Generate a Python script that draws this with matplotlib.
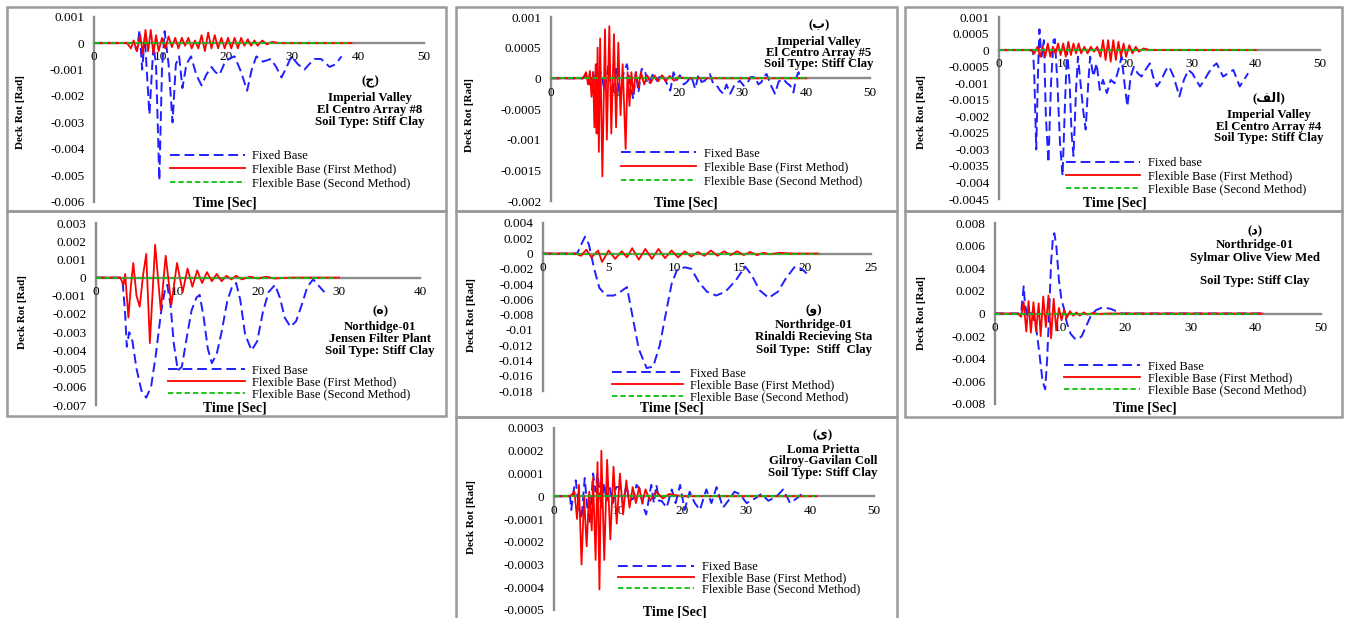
import numpy as np
import matplotlib

matplotlib.use("Agg")
import matplotlib.pyplot as plt
from matplotlib.patches import Rectangle
from matplotlib.ticker import FuncFormatter

W, H = 1345, 618
plt.rcParams["font.family"] = ["Liberation Serif", "DejaVu Sans"]

# ---------------- data: (time [s], deck rotation [rad]) ----------------
# (ج) Imperial Valley - El Centro Array #8
p1_fixed = [(0, 0), (6.0, 0), (6.5, -0.0003), (6.9, 0.0005), (7.3, -0.001), (7.7, 0.0002),
            (8.4, -0.0027), (9.0, -0.0001), (9.4, -0.0008), (9.9, -0.0052), (10.3, -0.001),
            (10.7, 0.00045), (11.3, -0.0008), (11.9, -0.003), (12.4, -0.0008), (12.9, -0.0005),
            (13.4, -0.0017), (14.0, -0.0008), (14.7, -0.0005), (15.5, -0.0012), (16.3, -0.0016),
            (17.0, -0.0012), (17.8, -0.0009), (18.4, -0.0011), (19.0, -0.0012), (19.7, -0.0008),
            (20.4, -0.0006), (21.3, -0.0005), (22.3, -0.0011), (23.2, -0.0018), (23.9, -0.001),
            (24.6, -0.0005), (25.6, -0.0007), (26.8, -0.0006), (27.6, -0.0009), (28.4, -0.0013),
            (29.2, -0.0009), (29.9, -0.0005), (30.9, -0.0008), (31.9, -0.001), (32.6, -0.0008),
            (33.4, -0.0006), (34.4, -0.0006), (35.7, -0.0009), (36.6, -0.0008), (37.5, -0.0005)]
p1_flex1 = [(0, 0), (5.0, 0), (5.6, -0.0002), (6.0, 0.0001), (6.5, -0.0003), (7.0, 0.0003),
            (7.4, -0.0004), (7.8, 0.0005), (8.2, -0.0003), (8.6, 0.0005), (9.0, -0.0004),
            (9.4, 0.0003), (9.8, -0.0003), (10.3, 0.0002), (10.8, -0.0002), (11.3, 0.00025),
            (11.8, -0.00015), (12.3, 0.0002), (12.8, -0.0002), (13.3, 0.0002), (13.8, -0.0001),
            (14.3, 0.0002), (14.8, -0.0002), (15.3, 0.0001), (15.8, -0.0002), (16.3, 0.0003),
            (16.8, -0.0003), (17.3, 0.0004), (17.8, -0.0002), (18.3, 0.0003), (18.8, -0.0002),
            (19.3, 0.0002), (19.8, -0.0002), (20.3, 0.0002), (20.8, -0.0002), (21.3, 0.0002),
            (21.8, -0.0002), (22.3, 0.0002), (22.8, -0.0001), (23.3, 0.00015), (23.8, -0.0001),
            (24.3, 0.0001), (24.8, -0.0001), (25.5, 0.0001), (26.2, -0.00005), (27.0, 0.00005),
            (28.0, 0), (39.0, 0)]
p1_flex2 = [(0, 0), (38.5, 0)]

# (ب) Imperial Valley - El Centro Array #5
p2_fixed = [(0, 0), (5.0, 0), (5.5, 0.00005), (6.0, -0.0001), (6.6, 0.0001), (7.2, -0.0002),
            (7.8, 0.0001), (8.4, -0.0002), (9.0, 0.0002), (9.6, -0.0003), (10.2, 0.0002),
            (10.8, -0.0003), (11.4, 0.0001), (11.9, 0.00023), (12.4, -0.0001), (12.9, -0.00034),
            (13.3, 0.0001), (13.7, -0.00023), (14.2, 0.00015), (14.7, 0.00015), (15.1, -0.0001),
            (15.5, -0.00006), (16.0, 0.00008), (16.6, -0.00004), (17.3, 0.00007), (18.0, -0.00005),
            (18.7, -0.0002), (19.2, 0.0001), (19.7, -0.00003), (20.2, 0.00005), (20.8, -0.0001),
            (21.3, -0.00006), (22.0, 0.00003), (22.6, -0.00017), (23.1, 0.00005), (23.6, -0.00006),
            (24.1, -0.00004), (24.9, 0.00007), (25.4, -0.00008), (26.0, -0.00012), (26.5, -0.0002),
            (27.0, -0.00025), (27.5, -0.0001), (28.1, -0.00025), (28.8, -0.0001), (29.6, -0.00004),
            (30.2, -0.00012), (30.7, -0.00009), (31.3, 0.00002), (32.0, 0.00002), (32.5, -0.0001),
            (33.0, -0.00006), (33.4, 0.00003), (33.8, 0.00007), (34.4, -0.0001), (35.1, -0.00025),
            (35.7, -0.00005), (36.4, -0.00001), (37.0, -0.00008), (37.5, -0.00012), (38.0, -0.00023),
            (38.4, 0.0), (38.8, 0.0001), (39.0, 0.0)]
p2_flex1 = [(0, 0), (5.0, 0), (5.5, 0.0001), (5.8, -0.0001), (6.1, 0.00012), (6.35, -0.0003),
            (6.6, 0.0001), (6.8, -0.0008), (7.0, 0.00023), (7.15, -0.0009), (7.3, 0.0005),
            (7.5, -0.0012), (7.7, 0.00065), (8.05, -0.0016), (8.46, 0.0008), (8.75, -0.001),
            (9.14, 0.00085), (9.45, -0.0009), (9.87, 0.00072), (10.2, -0.0008), (10.55, 0.00058),
            (10.9, -0.0006), (11.23, 0.00023), (11.7, -0.00115), (12.0, 0.0001), (12.3, -0.00045),
            (12.6, 0.0001), (12.9, -0.00025), (13.3, 0.0001), (13.7, -0.00015), (14.1, 0.0001),
            (14.6, -0.0001), (15.1, 0.00005), (15.6, -0.00008), (16.2, 0.00005), (16.8, -0.00005),
            (17.4, 0.00005), (18.0, -0.00005), (18.6, 0.00004), (19.3, -0.00004), (20.0, 0.00002),
            (21.0, 0), (40.0, 0)]
p2_flex2 = [(0, 0), (40.3, 0)]

# (الف) Imperial Valley - El Centro Array #4
p3_fixed = [(0, 0), (5.3, 0), (5.5, -0.0008), (5.8, -0.003), (6.1, -0.0005), (6.3, 0.00063),
            (6.6, -0.0002), (7.0, 0.0003), (7.3, -0.002), (7.7, -0.0034), (8.1, -0.001),
            (8.5, 0.0003), (8.7, 0.00033), (9.1, -0.001), (9.5, -0.0028), (9.9, -0.0038),
            (10.3, -0.0015), (10.6, 0.0), (11.0, -0.001), (11.3, -0.0025), (11.6, -0.0032),
            (12.0, -0.0012), (12.3, -0.0002), (12.7, -0.001), (13.1, -0.0018), (13.5, -0.0024),
            (13.9, -0.001), (14.2, -0.0002), (14.7, -0.0008), (15.2, -0.0004), (15.7, -0.0012),
            (16.2, -0.0009), (16.8, -0.0013), (17.4, -0.0009), (18.0, -0.001), (18.6, -0.0006),
            (19.1, -0.0002), (19.6, -0.0011), (20.0, -0.0017), (20.5, -0.0008), (21.0, -0.0005),
            (21.6, -0.0007), (22.2, -0.0008), (22.8, -0.0006), (23.5, -0.0004), (24.0, -0.0008),
            (24.6, -0.0011), (25.3, -0.0009), (26.0, -0.0006), (26.5, -0.0005), (27.2, -0.0008),
            (28.1, -0.0014), (28.8, -0.0009), (29.5, -0.0006), (30.1, -0.0007), (30.7, -0.0009),
            (31.3, -0.0011), (32.0, -0.0009), (32.6, -0.0007), (33.3, -0.0005), (33.9, -0.0004),
            (34.9, -0.0008), (35.7, -0.0007), (36.5, -0.0006), (37.5, -0.0011), (38.8, -0.0007)]
p3_flex1 = [(0, 0), (5.0, 0), (5.5, -0.0001), (6.0, 0.0001), (6.4, -0.0002), (6.8, 0.0001),
            (7.2, -0.0002), (7.6, 0.0002), (8.0, -0.0002), (8.4, 0.0001), (8.8, -0.0001),
            (9.2, 0.0002), (9.6, -0.00015), (10.0, 0.0002), (10.4, -0.0002), (10.8, 0.00025),
            (11.2, -0.00015), (11.6, 0.0002), (12.0, -0.0001), (12.4, 0.0002), (12.8, -0.0001),
            (13.3, 0.0001), (13.8, -0.0001), (14.3, 0.0001), (14.8, -0.00005), (15.3, 0.0001),
            (15.8, -0.0002), (16.2, 0.0003), (16.6, -0.0003), (17.0, 0.0003), (17.4, -0.00035),
            (17.8, 0.0003), (18.2, -0.0003), (18.6, 0.00025), (19.0, -0.0002), (19.4, 0.0002),
            (19.8, -0.0002), (20.3, 0.00015), (20.8, -0.0001), (21.3, 0.0001), (21.8, -0.00005),
            (22.5, 0.00005), (23.5, 0), (40.0, 0)]
p3_flex2 = [(0, 0), (40.4, 0)]

# (ه) Northridge-01 - Jensen Filter Plant
p4_fixed = [(0, 0), (3.0, 0), (3.3, -0.0003), (3.6, -0.002), (3.8, -0.0038), (4.1, -0.003),
            (4.5, -0.0035), (5.0, -0.005), (5.6, -0.0062), (6.2, -0.0066), (6.8, -0.006),
            (7.4, -0.0042), (8.0, -0.002), (8.5, -0.0007), (8.8, -0.0004), (9.2, -0.0015),
            (9.6, -0.0036), (10.1, -0.0051), (10.6, -0.0049), (11.2, -0.0033), (11.8, -0.0018),
            (12.4, -0.0011), (12.8, -0.00095), (13.3, -0.0022), (13.8, -0.0039), (14.3, -0.0047),
            (14.9, -0.0042), (15.5, -0.003), (16.2, -0.0013), (16.8, -0.0005), (17.3, -0.0003),
            (17.8, -0.0012), (18.4, -0.0031), (19.2, -0.004), (19.9, -0.0035), (20.6, -0.0019),
            (21.3, -0.0008), (22.1, -0.0004), (22.7, -0.0011), (23.3, -0.0022), (24.0, -0.0027),
            (24.7, -0.0024), (25.4, -0.0015), (26.1, -0.0005), (26.8, -0.0001), (27.4, -0.0004),
            (28.2, -0.0008)]
p4_flex1 = [(0, 0), (3.0, 0), (3.4, -0.0004), (3.6, 0.0002), (4.0, -0.0022), (4.3, -0.0005),
            (4.6, 0.0008), (5.0, -0.001), (5.4, -0.0016), (5.8, 0.0001), (6.2, 0.0013),
            (6.65, -0.0036), (7.3, 0.0018), (8.0, -0.0018), (8.6, 0.0012), (9.3, -0.0015),
            (10.0, 0.0008), (10.7, -0.0008), (11.3, 0.0005), (11.9, -0.0005), (12.5, 0.0004),
            (13.1, -0.0003), (13.7, 0.0003), (14.3, -0.0002), (14.9, 0.0002), (15.5, -0.0002),
            (16.1, 0.0001), (16.7, -0.0001), (17.3, 0.0001), (18.0, -0.0001), (19.0, 0.00005),
            (20.0, -0.00005), (21.0, 0.00005), (22.0, -0.00005), (24.0, 0), (30.0, 0)]
p4_flex2 = [(0, 0), (29.9, 0)]

# (و) Northridge-01 - Rinaldi Recieving Sta
p5_fixed = [(0, 0), (2.6, 0), (3.0, 0.0015), (3.2, 0.0022), (3.5, 0.0012), (3.9, -0.002),
            (4.3, -0.0045), (4.8, -0.0055), (5.4, -0.0055), (5.9, -0.005), (6.4, -0.0044),
            (6.8, -0.008), (7.3, -0.0125), (7.9, -0.015), (8.4, -0.0148), (8.9, -0.012),
            (9.4, -0.0075), (9.8, -0.004), (10.2, -0.0022), (10.8, -0.0018), (11.3, -0.002),
            (11.9, -0.0038), (12.5, -0.005), (13.2, -0.0055), (13.9, -0.005), (14.7, -0.0035),
            (15.4, -0.0017), (15.9, -0.0028), (16.5, -0.0048), (17.2, -0.0058), (17.9, -0.005),
            (18.5, -0.0033), (19.2, -0.0017), (19.7, -0.002), (20.1, -0.0026)]
p5_flex1 = [(0, 0), (2.5, 0), (2.9, -0.0003), (3.3, 0.0005), (3.7, -0.0005), (4.2, 0.0004),
            (4.5, -0.0011), (5.0, 0.0004), (5.5, -0.0007), (6.0, 0.0003), (6.4, -0.0005),
            (6.8, 0.0007), (7.3, -0.0008), (7.8, 0.0006), (8.3, -0.0007), (8.8, 0.0006),
            (9.3, -0.0006), (9.8, 0.0004), (10.3, -0.0005), (10.8, 0.0003), (11.3, -0.0004),
            (11.8, 0.0002), (12.3, -0.0003), (12.8, 0.0004), (13.3, -0.0003), (13.8, 0.0003),
            (14.3, -0.0002), (14.8, 0.0003), (15.3, -0.0002), (15.8, 0.0002), (16.3, -0.0002),
            (16.8, 0.0001), (17.3, -0.0001), (18.0, 0.0001), (19.0, 0), (21.0, 0)]
p5_flex2 = [(0, 0), (21.0, 0)]

# (د) Northridge-01 - Sylmar Olive View Med
p6_fixed = [(0, 0), (4.0, 0), (4.2, 0.0012), (4.4, 0.0024), (4.6, 0.0008), (4.9, -0.0001),
            (5.3, 0.0002), (5.8, -0.0002), (6.3, -0.0012), (6.8, -0.0035), (7.3, -0.006),
            (7.7, -0.0067), (8.0, -0.004), (8.3, 0.0), (8.6, 0.0045), (8.9, 0.0068),
            (9.1, 0.0071), (9.4, 0.006), (9.8, 0.003), (10.2, 0.0012), (10.6, 0.0004),
            (11.0, -0.0008), (11.6, -0.0018), (12.2, -0.0022), (12.7, -0.0023), (13.3, -0.002),
            (14.0, -0.0011), (14.7, -0.0002), (15.5, 0.0003), (16.3, 0.0005), (17.0, 0.0005),
            (17.8, 0.0004), (18.6, 0.0002), (19.5, 0.0), (41.0, 0.0)]
p6_flex1 = [(0, 0), (3.5, 0), (4.0, -0.0003), (4.4, 0.001), (4.8, -0.0016), (5.15, 0.0011),
            (5.5, -0.0017), (5.9, 0.001), (6.3, -0.0016), (6.7, 0.0009), (7.0, -0.002),
            (7.4, 0.0015), (7.8, -0.0012), (8.2, 0.0016), (8.6, -0.0022), (9.0, 0.0013),
            (9.4, -0.0015), (9.8, 0.0005), (10.2, -0.0006), (10.6, 0.0003), (11.0, -0.0004),
            (11.5, 0.0002), (12.0, -0.0002), (12.5, 0.0001), (13.0, -0.0002), (13.6, 0.0001),
            (14.2, -0.0001), (15.0, 0.00005), (16.0, -0.00005), (17.0, 0), (41.0, 0)]
p6_flex2 = [(0, 0), (41.0, 0)]

# (ی) Loma Prietta - Gilroy-Gavilan Coll
p7_fixed = [(0, 0), (2.5, 0), (2.7, -0.00006), (3.1, 0.00003), (3.4, 0.00007), (3.9, -0.00005),
            (4.3, -0.0001), (4.8, 0.00008), (5.2, -0.00005), (5.6, -0.00012), (6.1, 0.0001),
            (6.5, 0.00002), (6.8, 0.0001), (7.4, -0.00005), (7.8, 0.00006), (8.2, -0.00002),
            (8.7, 0.00004), (9.2, -0.00003), (9.7, 0.00004), (10.3, 0.00004), (10.8, -0.00003),
            (11.3, 0.00005), (11.8, -0.00002), (12.4, -0.00001), (12.9, 0.00005), (13.4, 0.00003),
            (13.9, -0.00004), (14.4, -0.00008), (15.2, 0.00005), (15.6, -0.00003), (16.0, 0.00005),
            (16.4, -0.00002), (16.8, -0.00002), (17.6, -0.00005), (18.4, 0.00003), (19.0, -0.00003),
            (19.7, 0.00005), (20.4, -0.00006), (21.2, 0.00002), (22.0, -0.00003), (22.8, -0.00006),
            (23.8, 0.00003), (24.6, -0.00003), (25.4, 0.00004), (26.4, -0.00005), (27.5, -0.00001),
            (28.2, 0.00002), (29.0, 0.00001), (30.1, -0.00003), (31.4, -0.00001), (32.4, 0.00001),
            (33.5, -0.00002), (34.8, 0.0), (35.8, 0.00003), (36.9, -0.00003), (37.9, -0.00001),
            (38.7, 0.00001), (39.3, 0.0)]
p7_flex1 = [(0, 0), (2.5, 0), (3.2, 0.00002), (3.6, -0.0001), (3.9, 0.00005), (4.3, -0.0003),
            (4.7, 0.0), (5.1, -0.00022), (5.5, 0.00002), (5.9, -0.00015), (6.1, 0.00008),
            (6.5, -0.00028), (6.8, 0.00015), (7.1, -0.00041), (7.4, 0.0002), (7.85, -0.00028),
            (8.3, 0.00016), (8.8, -0.00019), (9.3, 0.00013), (9.8, -0.00012), (10.3, 0.0001),
            (10.8, -0.00008), (11.3, 0.00007), (11.8, -0.00005), (12.3, 0.00004), (12.8, -0.00003),
            (13.3, 0.00004), (13.8, -0.00003), (14.3, 0.00003), (15.0, -0.00002), (16.0, 0.00002),
            (17.0, -0.00001), (18.0, 0.00001), (20.0, 0), (41.0, 0)]
p7_flex2 = [(0, 0), (40.8, 0)]

SERIES_LABELS = ["Fixed Base", "Flexible Base (First Method)", "Flexible Base (Second Method)"]

# ---------------- layout (pixel coordinates of the reference) ----------------
# leg = (handle left x, first row y, handle length, row pitch)
PANELS = [
    dict(box=(7, 7, 446, 211), ax=(94, 424, 16.7, 201.7), xmax=50, xstep=10,
         ylim=(-0.006, 0.001), ystep=0.001, data=(p1_fixed, p1_flex1, p1_flex2),
         fixed_label="Fixed Base", note_x=370, note_y=[82, 98, 110, 122],
         note=["(ج)", "Imperial Valley", "El Centro Array #8", "Soil Type: Stiff Clay"],
         leg=(170, 157, 75, 14), ylab=(21, 112), xlab=(225, 203)),
    dict(box=(456, 7, 897, 211), ax=(551, 870, 17, 201), xmax=50, xstep=10,
         ylim=(-0.002, 0.001), ystep=0.0005, data=(p2_fixed, p2_flex1, p2_flex2),
         fixed_label="Fixed Base", note_x=819, note_y=[25, 42, 53, 64],
         note=["(ب)", "Imperial Valley", "El Centro Array #5", "Soil Type: Stiff Clay"],
         leg=(621, 155, 75, 14.5), ylab=(470, 115), xlab=(686, 203)),
    dict(box=(905, 7, 1342, 211), ax=(999, 1320, 17, 199), xmax=50, xstep=10,
         ylim=(-0.0045, 0.001), ystep=0.0005, data=(p3_fixed, p3_flex1, p3_flex2),
         fixed_label="Fixed base", note_x=1269, note_y=[98, 115, 127, 138],
         note=["(\ufed2\ufedf\ufe8d)", "Imperial Valley", "El Centro Array #4", "Soil Type: Stiff Clay"],
         leg=(1066, 164, 74, 13.5), ylab=(921, 112), xlab=(1115, 203)),
    dict(box=(7, 211, 446, 416), ax=(96, 420, 223, 405), xmax=40, xstep=10,
         ylim=(-0.007, 0.003), ystep=0.001, data=(p4_fixed, p4_flex1, p4_flex2),
         fixed_label="Fixed Base", note_x=380, note_y=[311, 327, 339, 351],
         note=["(ه)", "Northidge-01", "Jensen Filter Plant", "Soil Type: Stiff Clay"],
         leg=(168, 371, 77, 12.5), ylab=(23, 312), xlab=(235, 408)),
    dict(box=(456, 211, 897, 417), ax=(543, 871, 223, 391), xmax=25, xstep=5,
         ylim=(-0.018, 0.004), ystep=0.002, data=(p5_fixed, p5_flex1, p5_flex2),
         fixed_label="Fixed Base", note_x=814, note_y=[310, 325, 337, 350],
         note=["(و)", "Northridge-01", "Rinaldi Recieving Sta", "Soil Type:  Stiff  Clay"],
         leg=(612, 374, 71, 12.5), ylab=(471, 315), xlab=(672, 408)),
    dict(box=(905, 211, 1342, 417), ax=(995, 1321, 223, 404), xmax=50, xstep=10,
         ylim=(-0.008, 0.008), ystep=0.002, data=(p6_fixed, p6_flex1, p6_flex2),
         fixed_label="Fixed Base", note_x=1255, note_y=[231, 245, 258, 281],
         note=["(د)", "Northridge-01", "Sylmar Olive View Med", "Soil Type: Stiff Clay"],
         leg=(1064, 367, 76, 12.5), ylab=(921, 313), xlab=(1145, 408)),
    dict(box=(456, 417, 897, 622), ax=(554, 874, 428, 610), xmax=50, xstep=10,
         ylim=(-0.0005, 0.0003), ystep=0.0001, data=(p7_fixed, p7_flex1, p7_flex2),
         fixed_label="Fixed Base", note_x=823, note_y=[435, 450, 461, 473],
         note=["(ی)", "Loma Prietta", "Gilroy-Gavilan Coll", "Soil Type: Stiff Clay"],
         leg=(618, 567, 76, 11.8), ylab=(471, 517), xlab=(675, 612)),
]

AXIS_GRAY = "#8c8c8c"
BORDER_GRAY = "#9a9a9a"
BLUE, RED, GREEN = "#1f1fff", "#ff0000", "#10c010"
TICK_FS = 9.5
NOTE_FS = 9.2
LEG_FS = 9


def fx(x):
    return x / W


def fy(y):
    return 1 - y / H


def tick_fmt(v, _):
    return f"{round(v, 6) + 0.0:g}"


fig = plt.figure(figsize=(W / 100, H / 100), dpi=100)
fig.patch.set_facecolor("white")

fs_px = LEG_FS * 100 / 72
for p in PANELS:
    x0, y0, x1, y1 = p["box"]
    fig.add_artist(Rectangle((fx(x0), fy(y1)), fx(x1) - fx(x0), fy(y0) - fy(y1),
                             transform=fig.transFigure, fill=False,
                             edgecolor=BORDER_GRAY, linewidth=1.8))

    ax_l, ax_r, ax_t, ax_b = p["ax"]
    ax = fig.add_axes([fx(ax_l), fy(ax_b), fx(ax_r) - fx(ax_l), fy(ax_t) - fy(ax_b)])
    ax.patch.set_alpha(0)

    fixed, flex1, flex2 = (np.array(d).T for d in p["data"])
    l1, = ax.plot(fixed[0], fixed[1], color=BLUE, lw=1.4, dashes=(5, 2.5))
    l2, = ax.plot(flex1[0], flex1[1], color=RED, lw=1.3)
    l3, = ax.plot(flex2[0], flex2[1], color=GREEN, lw=1.3, dashes=(3, 1.6))

    ymin, ymax = p["ylim"]
    ax.set_xlim(0, p["xmax"])
    ax.set_ylim(ymin, ymax)
    ax.set_xticks(np.arange(0, p["xmax"] + 0.1, p["xstep"]))
    n = int(round((ymax - ymin) / p["ystep"]))
    ax.set_yticks(np.linspace(ymin, ymax, n + 1))
    ax.xaxis.set_major_formatter(FuncFormatter(lambda v, _: f"{v:g}"))
    ax.yaxis.set_major_formatter(FuncFormatter(tick_fmt))

    for s in ("top", "right"):
        ax.spines[s].set_visible(False)
    ax.spines["bottom"].set_position(("data", 0))
    for s in ("bottom", "left"):
        ax.spines[s].set_color(AXIS_GRAY)
        ax.spines[s].set_linewidth(1.7)
        ax.spines[s].set_zorder(1)
    ax.tick_params(axis="both", length=0, labelsize=TICK_FS)
    ax.tick_params(axis="y", pad=7)
    ax.tick_params(axis="x", pad=6)

    hx, hy, hlen, pitch = p["leg"]
    ax.legend([l1, l2, l3], [p["fixed_label"]] + SERIES_LABELS[1:],
              loc="upper left", bbox_to_anchor=(fx(hx), fy(hy - pitch / 2)),
              bbox_transform=fig.transFigure, frameon=False, fontsize=LEG_FS,
              handlelength=hlen / fs_px, handletextpad=0.6,
              labelspacing=(pitch - fs_px) / fs_px, borderpad=0, borderaxespad=0)

    for line, yy in zip(p["note"], p["note_y"]):
        fig.text(fx(p["note_x"]), fy(yy), line, ha="center", va="center",
                 fontsize=NOTE_FS, fontweight="bold")

    lx, ly = p["ylab"]
    fig.text(fx(lx), fy(ly), "Deck Rot [Rad]", rotation=90, ha="center", va="center",
             fontsize=8, fontweight="bold")
    tx, ty = p["xlab"]
    fig.text(fx(tx), fy(ty), "Time [Sec]", ha="center", va="center",
             fontsize=10, fontweight="bold")

fig.savefig("out.png", dpi=100)
